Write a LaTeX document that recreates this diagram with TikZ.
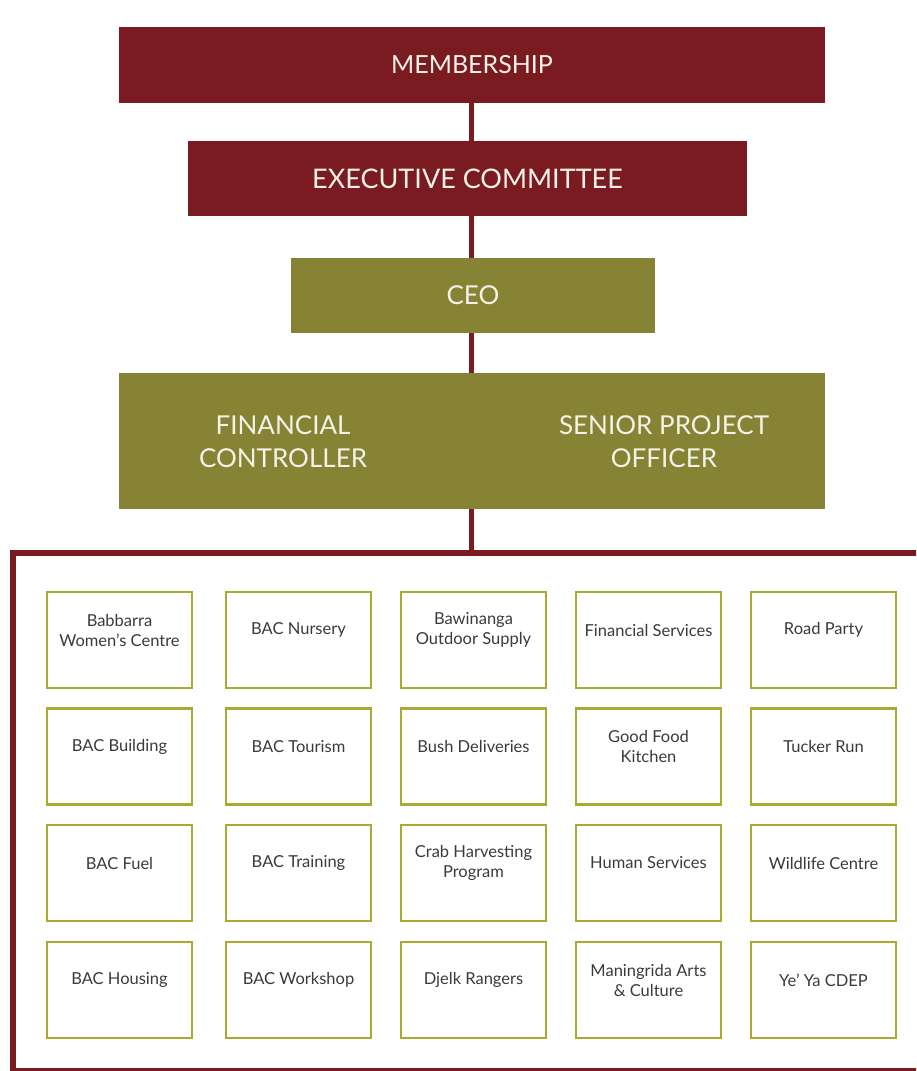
\documentclass[tikz,border=0pt]{standalone}
\usepackage{fontspec}
\setmainfont{Lato}
\usetikzlibrary{positioning}
\definecolor{bacred}{HTML}{7A1B22}
\definecolor{bacolive}{HTML}{878335}
\definecolor{bacline}{HTML}{ABAA30}
\definecolor{bactext}{HTML}{3A3A3A}
\definecolor{bachead}{HTML}{F4F1E6}
\begin{document}
\begin{tikzpicture}[x=1pt,y=-1pt,
        head/.style={inner sep=0pt, outer sep=0pt, text=bachead, font=\fontsize{26}{33}\selectfont, align=center},
        redhead/.style={head, fill=bacred},
        olivehead/.style={head, fill=bacolive},
        link/.style={draw=bacred, line width=5pt},
        frame/.style={draw=bacred, line width=6pt, inner sep=0pt, outer sep=0pt},
        unit/.style={draw=bacline, line width=2.2pt, minimum width=145pt, minimum height=96pt, inner sep=0pt},
        unittext/.style={text=bactext, font=\fontsize{16.5}{20}\selectfont, align=center, yshift=10pt}]
        \useasboundingbox (0,0) rectangle (916,1071);
        \clip (0,0) rectangle (916,1071);

        % management levels
        \node[redhead, minimum width=706pt, minimum height=76pt, font=\fontsize{25}{33}\selectfont] (member) at (472,65) {MEMBERSHIP};
        \node[redhead, minimum width=559pt, minimum height=75pt, font=\fontsize{27}{33}\selectfont] (exec) at (467.5,178.5) {EXECUTIVE COMMITTEE};
        \node[olivehead, minimum width=364pt, minimum height=75pt] (ceo) at (473,295.5) {CEO};
        \node[olivehead, minimum width=706pt, minimum height=136pt] (mgmt) at (472,441) {};
        \node[head] (finance) at (283,441.5) {FINANCIAL\\CONTROLLER};
        \node[head] (senior) at (664,441.5) {SENIOR PROJECT\\OFFICER};
        \node[frame, minimum width=912pt, minimum height=518pt] (units) at (469,812) {};

        \draw[link] (member.south -| 471,0) -- (exec.north -| 471,0);
        \draw[link] (exec.south -| 471,0) -- (ceo.north -| 471,0);
        \draw[link] (ceo.south -| 471,0) -- (mgmt.north -| 471,0);
        \draw[link] (mgmt.south -| 471,0) -- (units.north -| 471,0);

        % business units
        \node[unit, label={[unittext]center:{Babbarra\\Women's Centre}}] (babbarra) at (119.5,640) {};
        \node[unit, label={[unittext]center:BAC Nursery}] (nursery) at (298.5,640) {};
        \node[unit, label={[unittext]center:{Bawinanga\\Outdoor Supply}}] (outdoor) at (473.5,640) {};
        \node[unit, label={[unittext]center:Financial Services}] (finserv) at (648.5,640) {};
        \node[unit, label={[unittext]center:Road Party}] (road) at (823.5,640) {};

        \node[unit, label={[unittext]center:BAC Building}] (building) at (119.5,756.5) {};
        \node[unit, label={[unittext]center:BAC Tourism}] (tourism) at (298.5,756.5) {};
        \node[unit, label={[unittext]center:Bush Deliveries}] (bush) at (473.5,756.5) {};
        \node[unit, label={[unittext]center:{Good Food\\Kitchen}}] (kitchen) at (648.5,756.5) {};
        \node[unit, label={[unittext]center:Tucker Run}] (tucker) at (823.5,756.5) {};

        \node[unit, label={[unittext]center:BAC Fuel}] (fuel) at (119.5,873) {};
        \node[unit, label={[unittext]center:BAC Training}] (training) at (298.5,873) {};
        \node[unit, label={[unittext]center:{Crab Harvesting\\Program}}] (crab) at (473.5,873) {};
        \node[unit, label={[unittext]center:Human Services}] (human) at (648.5,873) {};
        \node[unit, label={[unittext]center:Wildlife Centre}] (wildlife) at (823.5,873) {};

        \node[unit, label={[unittext]center:BAC Housing}] (housing) at (119.5,990) {};
        \node[unit, label={[unittext]center:BAC Workshop}] (workshop) at (298.5,990) {};
        \node[unit, label={[unittext]center:Djelk Rangers}] (djelk) at (473.5,990) {};
        \node[unit, label={[unittext]center:{Maningrida Arts\\\& Culture}}] (arts) at (648.5,990) {};
        \node[unit, label={[unittext]center:Ye' Ya CDEP}] (cdep) at (823.5,990) {};
\end{tikzpicture}
\end{document}
